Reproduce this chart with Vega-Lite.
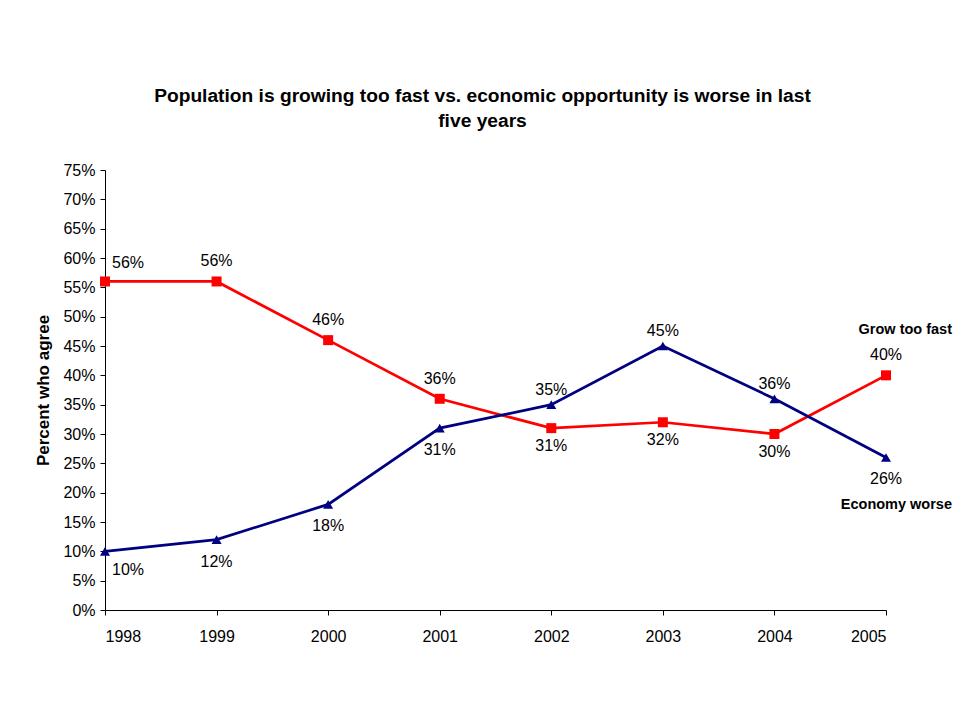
{
  "$schema": "https://vega.github.io/schema/vega-lite/v6.json",
  "autosize": {"type": "none"},
  "width": 781,
  "height": 440,
  "padding": {"left": 105, "top": 170, "right": 74, "bottom": 111},
  "background": "white",
  "config": {
    "font": "Liberation Sans",
    "view": {"stroke": null},
    "axis": {
      "grid": false,
      "domainColor": "#000000",
      "tickColor": "#000000",
      "labelColor": "#000000",
      "titleColor": "#000000",
      "labelFont": "Liberation Sans",
      "titleFont": "Liberation Sans",
      "labelFontSize": 16,
      "tickSize": 5
    }
  },
  "title": {
    "text": ["Population is growing too fast vs. economic opportunity is worse in last", "five years"],
    "font": "Liberation Sans",
    "fontSize": 19.2,
    "fontWeight": "bold",
    "color": "#000000",
    "anchor": "middle",
    "dx": -13,
    "offset": 31,
    "lineHeight": 25
  },
  "data": {
    "values": [
      {"year": 1998, "series": "Grow too fast", "value": 0.56},
      {"year": 1999, "series": "Grow too fast", "value": 0.56},
      {"year": 2000, "series": "Grow too fast", "value": 0.46},
      {"year": 2001, "series": "Grow too fast", "value": 0.36},
      {"year": 2002, "series": "Grow too fast", "value": 0.31},
      {"year": 2003, "series": "Grow too fast", "value": 0.32},
      {"year": 2004, "series": "Grow too fast", "value": 0.30},
      {"year": 2005, "series": "Grow too fast", "value": 0.40},
      {"year": 1998, "series": "Economy worse", "value": 0.10},
      {"year": 1999, "series": "Economy worse", "value": 0.12},
      {"year": 2000, "series": "Economy worse", "value": 0.18},
      {"year": 2001, "series": "Economy worse", "value": 0.31},
      {"year": 2002, "series": "Economy worse", "value": 0.35},
      {"year": 2003, "series": "Economy worse", "value": 0.45},
      {"year": 2004, "series": "Economy worse", "value": 0.36},
      {"year": 2005, "series": "Economy worse", "value": 0.26}
    ]
  },
  "encoding": {
    "x": {
      "field": "year",
      "type": "quantitative",
      "scale": {"domain": [1998, 2005], "nice": false, "zero": false},
      "axis": {"values": [1998, 1999, 2000, 2001, 2002, 2003, 2004, 2005], "format": "d", "title": null, "labelPadding": 13}
    },
    "y": {
      "field": "value",
      "type": "quantitative",
      "scale": {"domain": [0, 0.75], "nice": false},
      "axis": {
        "values": [0, 0.05, 0.1, 0.15, 0.2, 0.25, 0.3, 0.35, 0.4, 0.45, 0.5, 0.55, 0.6, 0.65, 0.7, 0.75],
        "format": ".0%",
        "title": "Percent who agree",
        "titleFontSize": 17,
        "titleFontWeight": "bold",
        "titlePadding": 10,
        "labelPadding": 5
      }
    }
  },
  "layer": [
    {
      "mark": {"type": "line", "strokeWidth": 2.7},
      "encoding": {
        "color": {"field": "series", "type": "nominal", "scale": {"domain": ["Grow too fast", "Economy worse"], "range": ["#FF0000", "#000080"]}, "legend": null}
      }
    },
    {
      "mark": {"type": "point", "filled": true, "opacity": 1, "size": 100},
      "encoding": {
        "color": {"field": "series", "type": "nominal", "scale": {"domain": ["Grow too fast", "Economy worse"], "range": ["#FF0000", "#000080"]}, "legend": null},
        "shape": {"field": "series", "type": "nominal", "scale": {"domain": ["Grow too fast", "Economy worse"], "range": ["square", "triangle-up"]}, "legend": null}
      }
    },
    {
      "transform": [{"filter": "datum.series == 'Grow too fast' && datum.year > 1998 && (datum.year < 2002 || datum.year > 2004)"}],
      "mark": {"type": "text", "fontSize": 16, "dy": -20, "color": "#000000"},
      "encoding": {"text": {"field": "value", "format": ".0%"}}
    },
    {
      "transform": [{"filter": "datum.series == 'Grow too fast' && datum.year == 1998"}],
      "mark": {"type": "text", "fontSize": 16, "dy": -18, "dx": 23, "color": "#000000"},
      "encoding": {"text": {"field": "value", "format": ".0%"}}
    },
    {
      "transform": [{"filter": "datum.series == 'Grow too fast' && datum.year >= 2002 && datum.year <= 2004"}],
      "mark": {"type": "text", "fontSize": 16, "dy": 18, "color": "#000000"},
      "encoding": {"text": {"field": "value", "format": ".0%"}}
    },
    {
      "transform": [{"filter": "datum.series == 'Economy worse' && datum.year > 1998 && (datum.year < 2002 || datum.year > 2004)"}],
      "mark": {"type": "text", "fontSize": 16, "dy": 22, "color": "#000000"},
      "encoding": {"text": {"field": "value", "format": ".0%"}}
    },
    {
      "transform": [{"filter": "datum.series == 'Economy worse' && datum.year == 1998"}],
      "mark": {"type": "text", "fontSize": 16, "dy": 19, "dx": 23, "color": "#000000"},
      "encoding": {"text": {"field": "value", "format": ".0%"}}
    },
    {
      "transform": [{"filter": "datum.series == 'Economy worse' && datum.year >= 2002 && datum.year <= 2004"}],
      "mark": {"type": "text", "fontSize": 16, "dy": -15, "color": "#000000"},
      "encoding": {"text": {"field": "value", "format": ".0%"}}
    },
    {
      "transform": [{"filter": "datum.series == 'Grow too fast' && datum.year == 2005"}],
      "mark": {"type": "text", "fontSize": 14.5, "fontWeight": "bold", "align": "right", "dx": 66, "dy": -45, "color": "#000000"},
      "encoding": {"text": {"value": "Grow too fast"}}
    },
    {
      "transform": [{"filter": "datum.series == 'Economy worse' && datum.year == 2005"}],
      "mark": {"type": "text", "fontSize": 14.5, "fontWeight": "bold", "align": "right", "dx": 66, "dy": 48, "color": "#000000"},
      "encoding": {"text": {"value": "Economy worse"}}
    }
  ]
}
